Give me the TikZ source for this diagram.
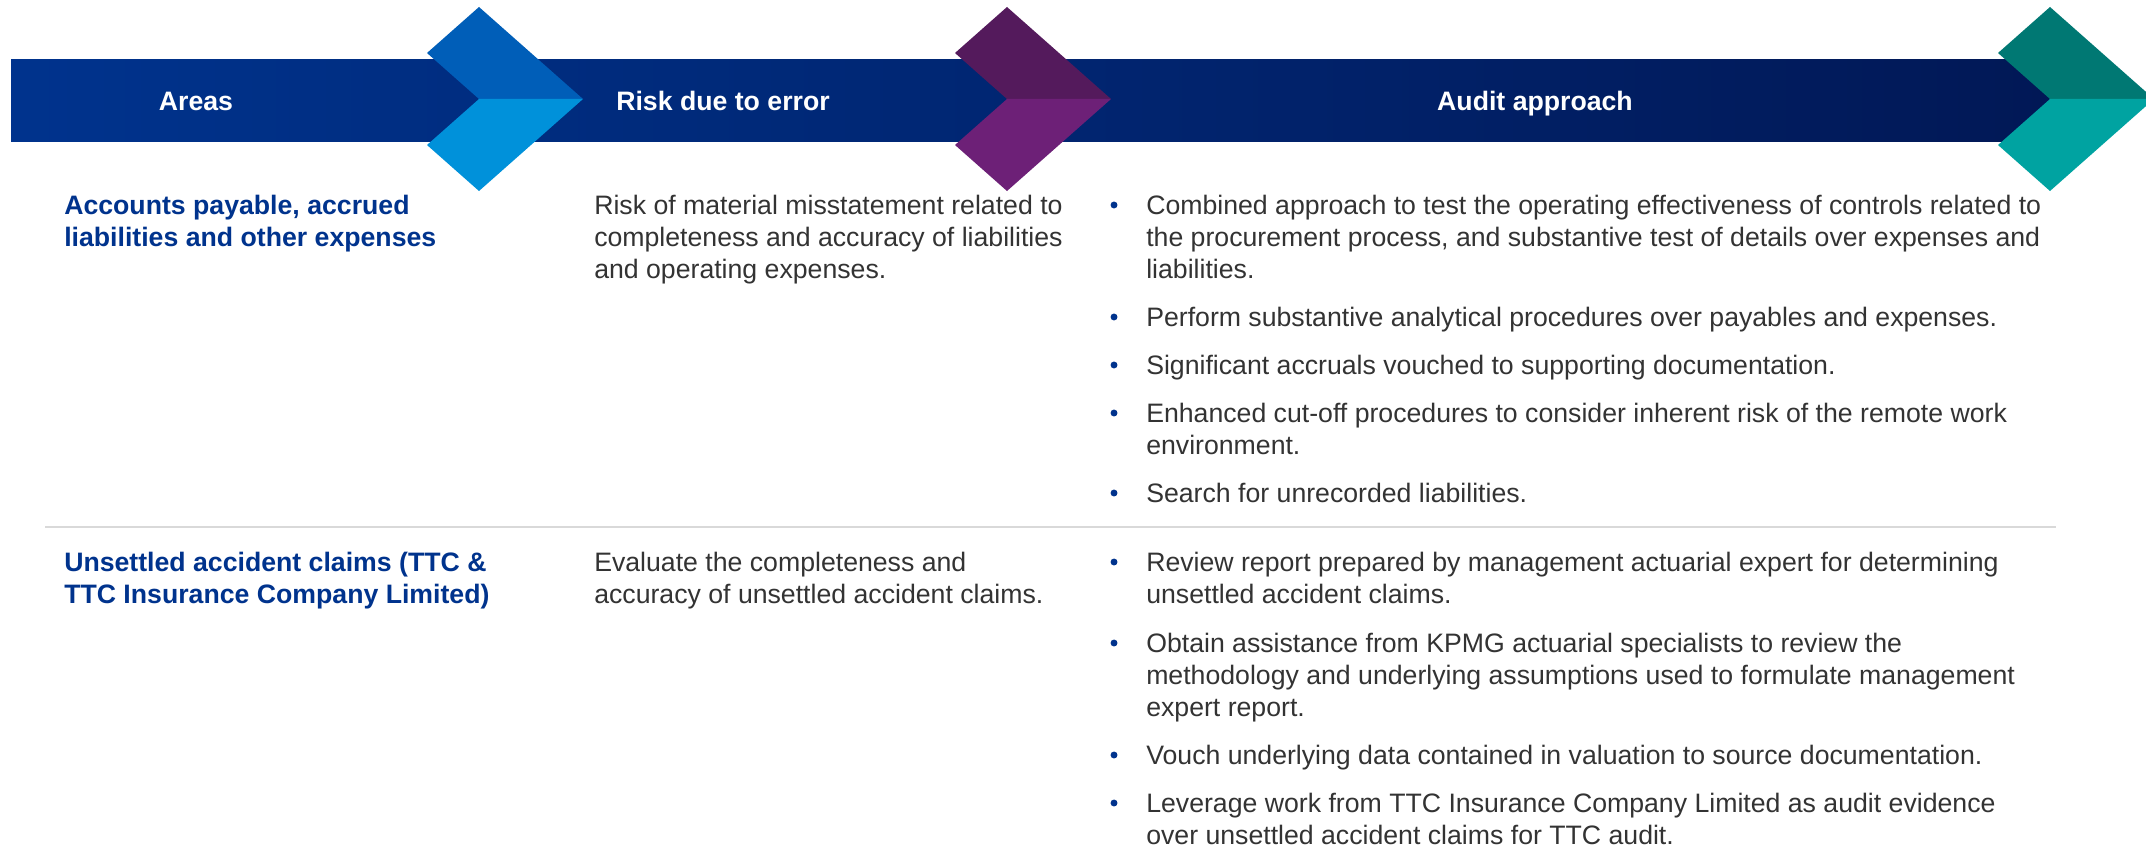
\documentclass[tikz,border=0pt]{standalone}
\usepackage{fontspec}
\setmainfont{Liberation Sans}
\definecolor{barL}{RGB}{0,51,141}
\definecolor{barR}{RGB}{1,24,86}
\definecolor{chevAup}{RGB}{0,94,184}
\definecolor{chevAlo}{RGB}{0,145,218}
\definecolor{chevBup}{RGB}{84,26,92}
\definecolor{chevBlo}{RGB}{109,32,119}
\definecolor{chevCup}{RGB}{0,120,115}
\definecolor{chevClo}{RGB}{0,163,161}
\definecolor{kblue}{RGB}{0,51,141}
\definecolor{bodygray}{RGB}{51,51,51}
\definecolor{sepgray}{RGB}{217,217,217}
\begin{document}
\begin{tikzpicture}[x=0.75pt,y=-0.75pt,
  head/.style={text=white,font=\fontsize{20}{24.2}\selectfont\bfseries,inner sep=0pt,anchor=base},
  rowlabel/.style={text=kblue,font=\fontsize{20}{24.2}\selectfont\bfseries,inner sep=0pt,anchor=base west,align=left},
  body/.style={text=bodygray,font=\fontsize{20}{24.2}\selectfont,inner sep=0pt,anchor=base west,align=left},
  bul/.style={circle,fill=kblue,inner sep=0pt,minimum size=5.2pt},
]
\fill[white] (0,0) rectangle (2146,867);
\useasboundingbox (0,0) rectangle (2146,867);
\begin{scope}
\clip (0,0) rectangle (2146,867);
% header bar
\shade[left color=barL, right color=barR] (11,60) rectangle (2050,141);
% chevrons
\foreach \n/\cu/\cl in {479/chevAup/chevAlo, 1007/chevBup/chevBlo, 2050/chevCup/chevClo}{
  \fill[\cu] (\n-52,53) -- (\n,7) -- (\n+104,99) -- (\n,99) -- cycle;
  \fill[\cl] (\n-52,145) -- (\n,99) -- (\n+104,99) -- (\n,191) -- cycle;
}
\end{scope}
% header texts
\node[head] (hA) at (196,110) {Areas};
\node[head] (hB) at (723,110) {Risk due to error};
\node[head] (hC) at (1535,110) {Audit approach};
% row 1 (anchor = baseline of last line)
\node[rowlabel] (areaA) at (64,246.3) {Accounts payable, accrued\\liabilities and other expenses};
\node[body] (riskA) at (594,278.6) {Risk of material misstatement related to\\completeness and accuracy of liabilities\\and operating expenses.};
\node[body] (a1) at (1146,278.6) {Combined approach to test the operating effectiveness of controls related to\\the procurement process, and substantive test of details over expenses and\\liabilities.};
\node[body] (a2) at (1146,326) {Perform substantive analytical procedures over payables and expenses.};
\node[body] (a3) at (1146,374) {Significant accruals vouched to supporting documentation.};
\node[body] (a4) at (1146,454.3) {Enhanced cut-off procedures to consider inherent risk of the remote work\\environment.};
\node[body] (a5) at (1146,502) {Search for unrecorded liabilities.};
\node[bul] (a1b) at (1114,205) {};
\node[bul] (a2b) at (1114,317) {};
\node[bul] (a3b) at (1114,365) {};
\node[bul] (a4b) at (1114,413) {};
\node[bul] (a5b) at (1114,493) {};
% separator
\coordinate (sepL) at (45,527);
\coordinate (sepR) at (2056,527);
\draw[sepgray, line width=1.9pt] (sepL) -- (sepR);
% row 2
\node[rowlabel] (areaB) at (64,603.3) {Unsettled accident claims (TTC \&\\TTC Insurance Company Limited)};
\node[body] (riskB) at (594,603.3) {Evaluate the completeness and\\accuracy of unsettled accident claims.};
\node[body] (b1) at (1146,603.3) {Review report prepared by management actuarial expert for determining\\unsettled accident claims.};
\node[body] (b2) at (1146,716.6) {Obtain assistance from KPMG actuarial specialists to review the\\methodology and underlying assumptions used to formulate management\\expert report.};
\node[body] (b3) at (1146,764) {Vouch underlying data contained in valuation to source documentation.};
\node[body] (b4) at (1146,844.3) {Leverage work from TTC Insurance Company Limited as audit evidence\\over unsettled accident claims for TTC audit.};
\node[bul] (b1b) at (1114,562) {};
\node[bul] (b2b) at (1114,643) {};
\node[bul] (b3b) at (1114,755) {};
\node[bul] (b4b) at (1114,803) {};
\end{tikzpicture}
\end{document}
